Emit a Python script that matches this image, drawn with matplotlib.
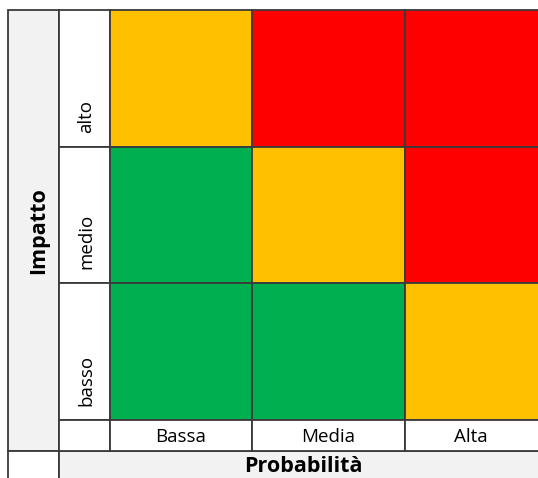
import matplotlib.pyplot as plt
from matplotlib.patches import Rectangle

# data
prob_labels = ["Bassa", "Media", "Alta"]
impact_labels = ["basso", "medio", "alto"]  # bottom -> top
# risk level per cell: rows = impact (bottom->top), cols = probability
risk = [
    [0, 0, 1],
    [0, 1, 2],
    [1, 2, 2],
]
risk_colors = ["#00B050", "#FFC000", "#FF0000"]
x_title = "Probabilità"
y_title = "Impatto"

# layout in pixels
W, H = 538, 478
x_edges = [8, 59, 110, 252, 405, 545]
y_top = 10
row_h = [137, 136, 137]  # alto, medio, basso
y_lab = 420
y_title_row = 451
line_c = "#3a3a3a"
grey = "#f2f2f2"
fname = ["Open Sans", "DejaVu Sans"]

fig = plt.figure(figsize=(W / 100, H / 100), dpi=100)
ax = fig.add_axes([0, 0, 1, 1])
ax.set_xlim(0, W)
ax.set_ylim(H, 0)
ax.axis("off")


def cell(x0, x1, y0, y1, fc):
    ax.add_patch(Rectangle((x0, y0), x1 - x0, y1 - y0, facecolor=fc,
                           edgecolor=line_c, linewidth=1.3))


# grey title column and bottom title row
cell(x_edges[0], x_edges[1], y_top, y_title_row, grey)
cell(x_edges[0], x_edges[1], y_title_row, H + 20, "white")
cell(x_edges[1], x_edges[-1], y_title_row, H + 20, grey)

# matrix rows (top row = last impact level)
y_rows = [y_top]
for h in row_h:
    y_rows.append(y_rows[-1] + h)
n = len(impact_labels)
for r in range(n):
    imp = n - 1 - r
    y0, y1 = y_rows[r], y_rows[r + 1]
    cell(x_edges[1], x_edges[2], y0, y1, "white")
    ax.text((x_edges[1] + x_edges[2]) / 2 + 2, y1 - 14, impact_labels[imp],
            rotation=90, ha="center", va="bottom", fontsize=13.5, family=fname)
    for c in range(len(prob_labels)):
        cell(x_edges[2 + c], x_edges[3 + c], y0, y1, risk_colors[risk[imp][c]])

# probability labels row
cell(x_edges[1], x_edges[2], y_lab, y_title_row, "white")
for c, lab in enumerate(prob_labels):
    x0, x1 = x_edges[2 + c], min(x_edges[3 + c], W - 1)
    cell(x_edges[2 + c], x_edges[3 + c], y_lab, y_title_row, "white")
    ax.text((x0 + x1) / 2, (y_lab + y_title_row) / 2 + 1, lab,
            ha="center", va="center", fontsize=13.5, family=fname)

ax.text(303, 467, x_title, ha="center", va="center", fontsize=15.5,
        fontweight="bold", family=fname)
ax.text(39, (y_top + y_title_row) / 2, y_title, rotation=90, ha="center",
        va="center", fontsize=15.5, fontweight="bold", family=fname)

fig.savefig("out.png", dpi=100)
